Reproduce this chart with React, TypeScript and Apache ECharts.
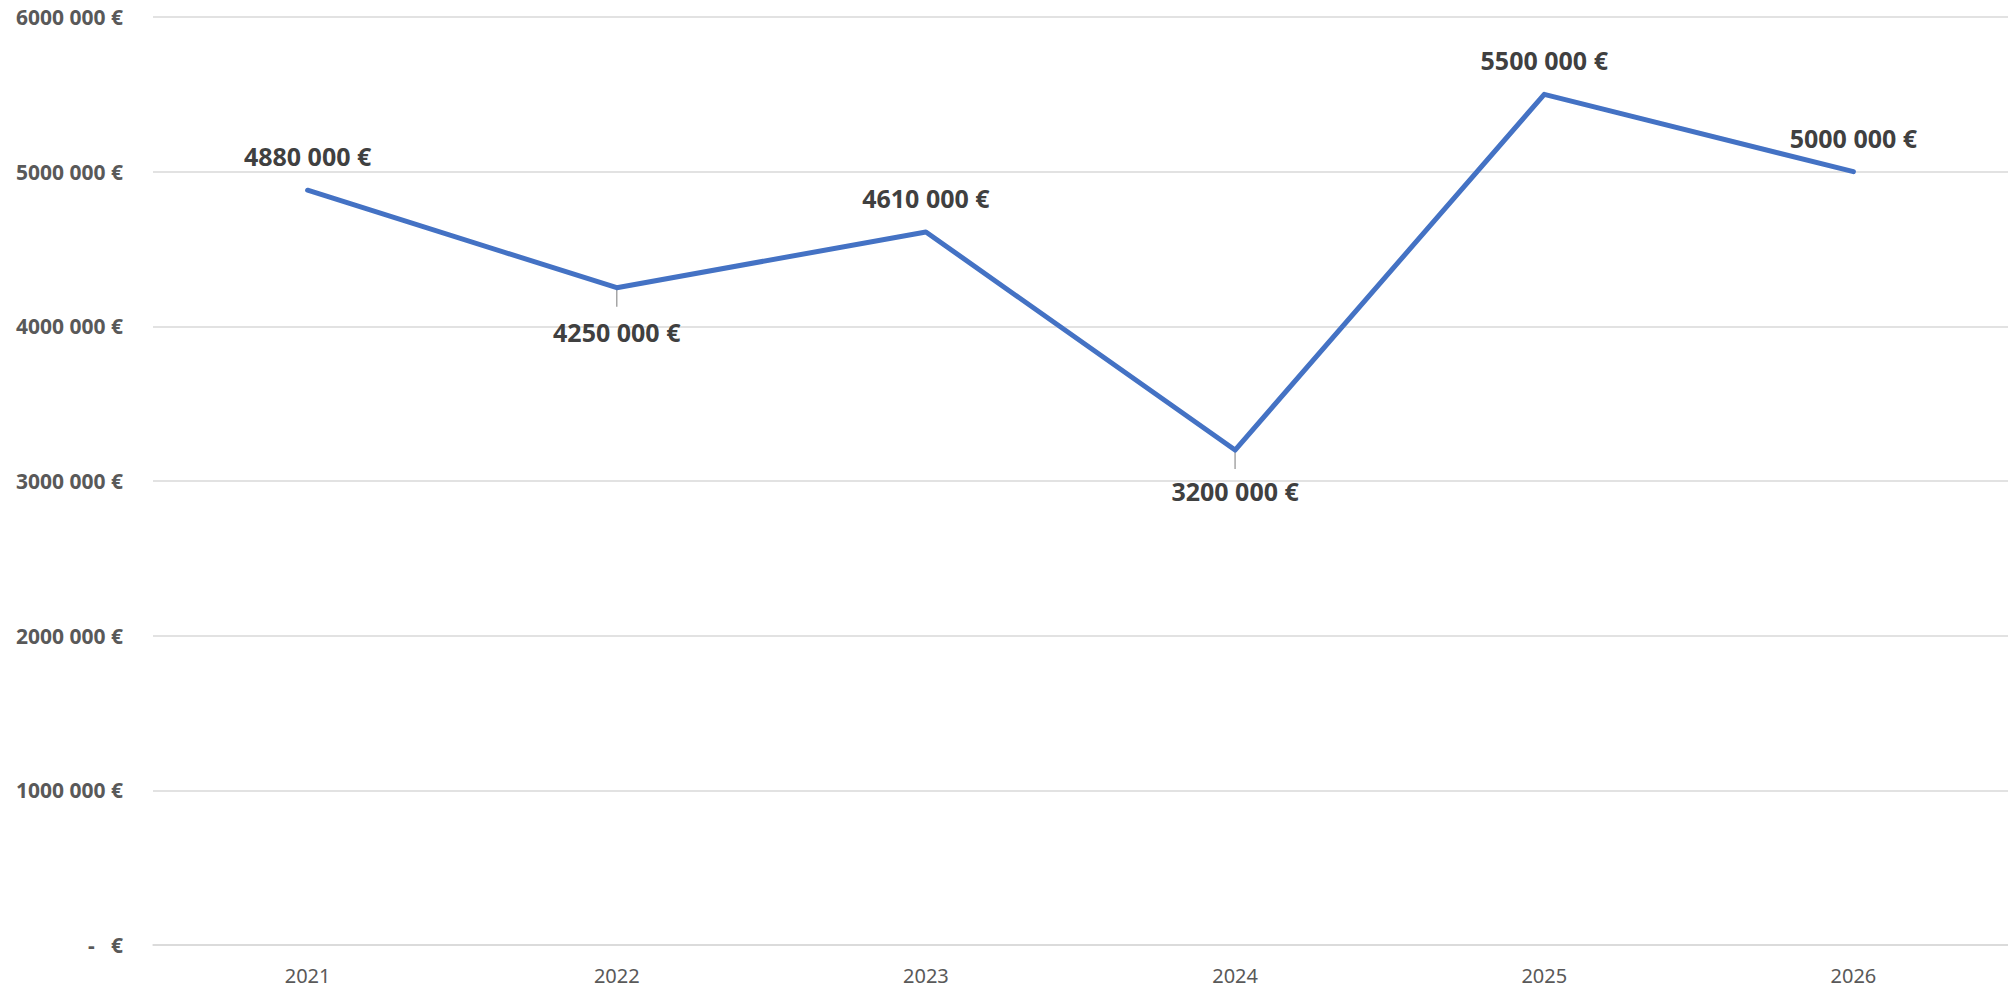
import React, { useEffect, useRef } from "react";
import * as echarts from "echarts";

const categories = ["2021", "2022", "2023", "2024", "2025", "2026"];
const values = [4880000, 4250000, 4610000, 3200000, 5500000, 5000000];
const belowIdx = [1, 3];

function fmt(v: number): string {
  if (v === 0) return "-   €";
  const s = String(Math.round(v));
  return s.slice(0, -3) + " " + s.slice(-3) + " €";
}

export default function App() {
  const ref = useRef<HTMLDivElement>(null);
  useEffect(() => {
    document.body.style.margin = "0";
    const chart = echarts.init(ref.current!, null, { renderer: "svg" });
    const font = "'Noto Sans', 'Open Sans', sans-serif";
    chart.setOption({
      animation: false,
      backgroundColor: "#ffffff",
      grid: { left: 153, right: 0, top: 17, bottom: 45, containLabel: false },
      xAxis: {
        type: "category",
        data: categories,
        boundaryGap: true,
        axisLine: { show: true, lineStyle: { color: "#d9d9d9", width: 1.5 } },
        axisTick: { show: false },
        axisLabel: { color: "#595959", fontSize: 20, fontFamily: font, margin: 20 },
      },
      yAxis: {
        type: "value",
        min: 0,
        max: 6000000,
        interval: 1000000,
        axisLine: { show: false },
        axisTick: { show: false },
        splitLine: { lineStyle: { color: "#d9d9d9", width: 1.5 } },
        axisLabel: {
          color: "#595959",
          fontSize: 21,
          fontWeight: "bold",
          fontFamily: font,
          margin: 30,
          formatter: (v: number) => fmt(v),
        },
      },
      series: [
        {
          type: "line",
          data: values.map((v, i) => {
            const below = belowIdx.includes(i);
            return {
              value: v,
              label: {
                position: below ? "bottom" : "top",
                distance: below ? (i === 1 ? 31 : 28) : 21,
              },
            };
          }),
          symbol: "circle",
          symbolSize: 1,
          showSymbol: true,
          itemStyle: { color: "#4472C4" },
          lineStyle: { color: "#4472C4", width: 5, cap: "round", join: "round" },
          label: {
            show: true,
            color: "#404040",
            fontSize: 25,
            fontWeight: "bold",
            fontFamily: font,
            formatter: (p: any) => fmt(p.value),
          },
          z: 3,
        },
        {
          type: "custom",
          data: values.map((v, i) => [i, v]).filter((d) => belowIdx.includes(d[0] as number)),
          renderItem: (params: any, api: any) => {
            const pt = api.coord([api.value(0), api.value(1)]);
            return {
              type: "line",
              shape: { x1: pt[0], y1: pt[1] + 2, x2: pt[0], y2: pt[1] + 19 },
              style: { stroke: "#a6a6a6", lineWidth: 1.5 },
            };
          },
          z: 2,
          silent: true,
        },
      ],
    });
    return () => chart.dispose();
  }, []);
  return <div ref={ref} style={{ width: 2008, height: 990 }} />;
}
